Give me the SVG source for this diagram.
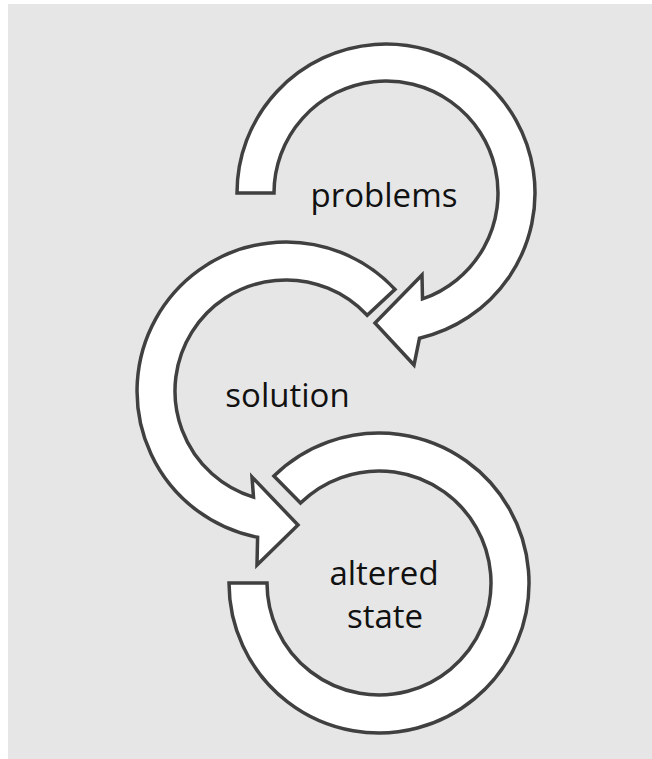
<svg xmlns="http://www.w3.org/2000/svg" width="652" height="759" viewBox="0 0 652 759">
<style>
.arc{fill:#ffffff;stroke:#404040;stroke-width:3.5;stroke-linejoin:miter}
.lbl{font-family:"Open Sans","Noto Sans","Liberation Sans",sans-serif;font-size:33px;fill:#111111;text-anchor:middle}
</style>
<rect x="8" y="4" width="644" height="755" fill="#e6e6e6"/>
<g id="problems">
<path class="arc" d="M237 193 A149 149 0 1 1 419.5 338.2 L414 365 L375 323 L422 275 L422.5 298.9 A112 112 0 1 0 274 193 Z"/>
<text class="lbl" x="384" y="207">problems</text>
</g>
<g id="solution">
<path class="arc" d="M395 289.4 A149 149 0 1 0 257.6 537.3 L257 565 L298 525 L252 477 L253.5 497.1 A111 111 0 1 1 367.2 315.3 Z"/>
<text class="lbl" x="287.5" y="407">solution</text>
</g>
<g id="altered-state">
<path class="arc" d="M229 583 A150 150 0 1 0 273.9 476 L300.5 503.1 A112 112 0 1 1 267 583 Z"/>
<text class="lbl" x="384" y="585">altered</text>
<text class="lbl" x="385" y="628">state</text>
</g>
<g id="connectors"></g>
</svg>
